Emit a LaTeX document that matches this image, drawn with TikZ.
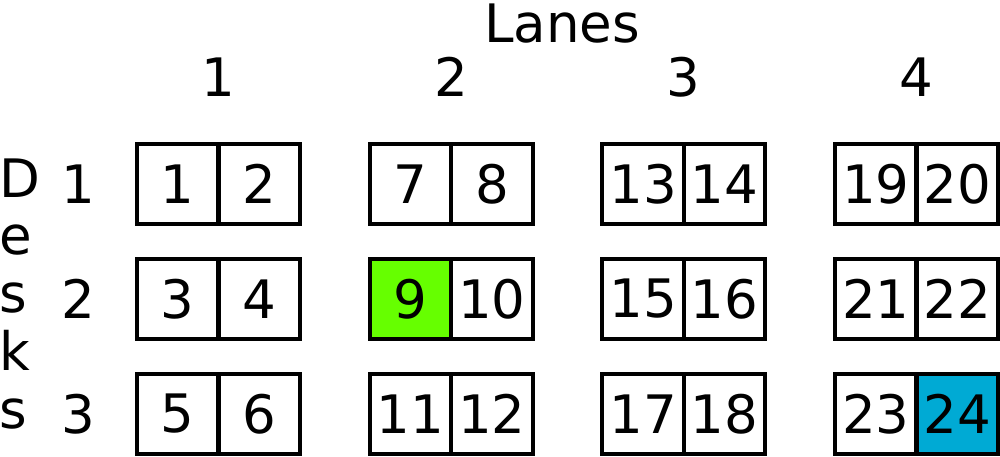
\documentclass[tikz,border=0pt]{standalone}
\usepackage{fontspec}
\setmainfont{DejaVu Sans}
\definecolor{selgreen}{HTML}{66FF00}
\definecolor{selblue}{HTML}{00AAD4}
\tikzset{
  txt/.style={inner sep=0pt, font=\fontsize{53}{57.75}\selectfont},
  cell/.style={draw, line width=4.2pt, minimum width=81.5pt, minimum height=80pt,
               inner sep=0pt, font=\fontsize{53}{60}\selectfont},
}
\begin{document}
\begin{tikzpicture}[x=1pt,y=-1pt]
\useasboundingbox (0,0) rectangle (1000,457);
% title
\node[txt, anchor=base] (lanes) at (562,43) {Lanes};
% lane numbers
\foreach \L in {1,...,4}{
  \node[txt, anchor=base] (lane\L) at ({218.5+232.67*(\L-1)},97) {\L};
}
% desks label (anchor base = last line baseline)
\node[txt, anchor=base west, align=left] (desks) at (-1,428) {D\\e\\s\\k\\s};
% row numbers
\foreach \r in {1,...,3}{
  \node[txt, anchor=base] (row\r) at (78,{203.3+115*(\r-1)}) {\r};
}
% cells
\foreach \L in {1,...,4}{
  \foreach \r in {1,...,3}{
    \foreach \j in {0,1}{
      \pgfmathtruncatemacro{\n}{6*(\L-1)+2*(\r-1)+\j+1}
      \ifnum\n=9
        \def\cellfill{selgreen}
      \else\ifnum\n=24
        \def\cellfill{selblue}
      \else
        \def\cellfill{white}
      \fi\fi
      \node[cell, fill=\cellfill] (c\n) at ({137+40.75+232.67*(\L-1)+81.5*\j},{184+115*(\r-1)}) {\n};
    }
  }
}
\end{tikzpicture}
\end{document}
